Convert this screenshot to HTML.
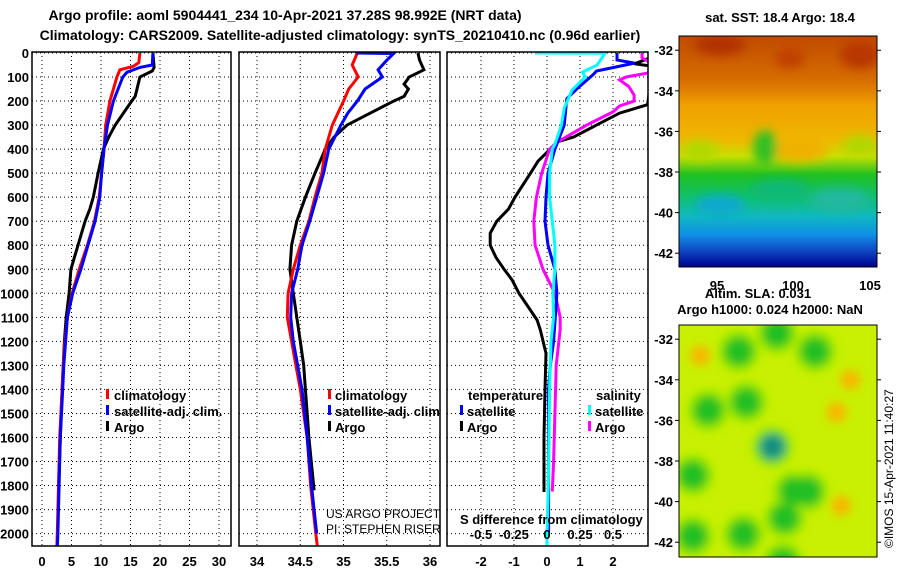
<!DOCTYPE html>
<html><head><meta charset="utf-8">
<style>
body{margin:0;background:#fff;}
svg{display:block;font-family:"Liberation Sans",sans-serif;}
.b{font-weight:bold;font-size:13px;}
</style></head>
<body>
<svg id="c" width="900" height="580" viewBox="0 0 900 580" xmlns="http://www.w3.org/2000/svg">
<defs>
<clipPath id="cp1"><rect x="32" y="52" width="199" height="494"/></clipPath>
<clipPath id="cp2"><rect x="239" y="52" width="201" height="494"/></clipPath>
<clipPath id="cp3"><rect x="447" y="52" width="201" height="494"/></clipPath>
<clipPath id="cpm1"><rect x="679" y="36" width="198" height="231"/></clipPath>
<clipPath id="cpm2"><rect x="679" y="325" width="198" height="232"/></clipPath>
<filter id="blur" x="-50%" y="-50%" width="200%" height="200%"><feGaussianBlur stdDeviation="5"/></filter>
<filter id="blur2" filterUnits="userSpaceOnUse" x="600" y="300" width="300" height="280"><feGaussianBlur stdDeviation="4.5"/></filter>
<linearGradient id="sstg" x1="0" y1="0" x2="0" y2="1">
<stop offset="0" stop-color="#c04a00"/><stop offset="0.2" stop-color="#d87000"/>
<stop offset="0.3" stop-color="#f0a000"/><stop offset="0.45" stop-color="#f0b800"/>
<stop offset="0.52" stop-color="#c8e000"/><stop offset="0.6" stop-color="#20c020"/>
<stop offset="0.7" stop-color="#10c070"/><stop offset="0.78" stop-color="#10b8c0"/>
<stop offset="0.86" stop-color="#1090e8"/><stop offset="0.92" stop-color="#1050c8"/>
<stop offset="1" stop-color="#000090"/></linearGradient>
</defs>
<g>
<text class="b" x="285" y="20" text-anchor="middle" style="font-size:14px">Argo profile: aoml 5904441_234 10-Apr-2021 37.28S 98.992E (NRT data)</text>
<text class="b" x="340" y="40" text-anchor="middle" style="font-size:14px">Climatology: CARS2009. Satellite-adjusted climatology: synTS_20210410.nc (0.96d earlier)</text>
</g>
<g id="grid"></g>
<g id="lines"></g>
<g id="frames"></g>
<g id="labels"></g>

<g class="b">
<rect x="106" y="389" width="3" height="10" fill="#f00"/><text x="114" y="400">climatology</text>
<rect x="106" y="405" width="3" height="10" fill="#00f"/><text x="114" y="416">satellite-adj. clim.</text>
<rect x="106" y="421" width="3" height="10" fill="#000"/><text x="114" y="432">Argo</text>
</g>
<g class="b" clip-path="url(#cp2)">
<rect x="328" y="389" width="3" height="10" fill="#f00"/><text x="335" y="400">climatology</text>
<rect x="328" y="405" width="3" height="10" fill="#00f"/><text x="335" y="416">satellite-adj. clim.</text>
<rect x="328" y="421" width="3" height="10" fill="#000"/><text x="335" y="432">Argo</text>
<text x="326" y="518" style="font-size:12px;font-weight:normal">US ARGO PROJECT</text>
<text x="326" y="533" style="font-size:12px;font-weight:normal">PI: STEPHEN RISER</text>
</g>
<g class="b">
<text x="468" y="400">temperature</text><text x="596" y="400">salinity</text>
<rect x="460" y="405" width="3" height="10" fill="#00f"/><text x="467" y="416">satellite</text>
<rect x="460" y="421" width="3" height="10" fill="#000"/><text x="467" y="432">Argo</text>
<rect x="588" y="405" width="3" height="10" fill="#0ff"/><text x="595" y="416">satellite</text>
<rect x="588" y="421" width="3" height="10" fill="#f0f"/><text x="595" y="432">Argo</text>
<text x="460" y="524">S difference from climatology</text>
</g>

<g>
<g clip-path="url(#cpm1)">
<rect x="679" y="36" width="198" height="231" fill="url(#sstg)"/>
<g filter="url(#blur)">
<ellipse cx="720" cy="45" rx="25" ry="10" fill="#b03000"/>
<ellipse cx="860" cy="55" rx="20" ry="14" fill="#b83800"/>
<ellipse cx="790" cy="58" rx="15" ry="10" fill="#c04000"/>
<ellipse cx="800" cy="150" rx="28" ry="12" fill="#f0b000"/>
<ellipse cx="765" cy="148" rx="12" ry="18" fill="#30c020"/>
<ellipse cx="840" cy="200" rx="30" ry="12" fill="#20b8a0"/>
<ellipse cx="720" cy="205" rx="25" ry="10" fill="#10a8d0"/>
<ellipse cx="700" cy="150" rx="18" ry="10" fill="#b0d800"/>
<ellipse cx="860" cy="145" rx="18" ry="10" fill="#b0d800"/>
<ellipse cx="780" cy="190" rx="30" ry="10" fill="#10b878"/>
</g>
</g>
<rect x="679" y="36" width="198" height="231" fill="none" stroke="#000"/>
</g>
<g>
<g clip-path="url(#cpm2)">
<rect x="679" y="325" width="198" height="232" fill="#c8f000"/>
<g id="blobs" filter="url(#blur2)"></g>
</g>
<rect x="679" y="325" width="198" height="232" fill="none" stroke="#000"/>
</g>
<g class="b">
<text x="780" y="22" text-anchor="middle">sat. SST: 18.4 Argo: 18.4</text>
<text x="717" y="290" text-anchor="middle">95</text>
<text x="793" y="290" text-anchor="middle">100</text>
<text x="870" y="290" text-anchor="middle">105</text>
<text x="758" y="298" text-anchor="middle">Altim. SLA: 0.031</text>
<text x="770" y="314" text-anchor="middle">Argo h1000: 0.024 h2000: NaN</text>
<text transform="translate(893,548) rotate(-90)" style="font-size:12px;font-weight:normal">©IMOS 15-Apr-2021 11:40:27</text>
</g>
<g id="maplabels" class="b"></g>
</svg>
<script>
// ---- data (depth in m) ----
const depthTicks=[0,100,200,300,400,500,600,700,800,900,1000,1100,1200,1300,1400,1500,1600,1700,1800,1900,2000];
const tTicks=[0,5,10,15,20,25,30];
const sTicks=[34,34.5,35,35.5,36];
const dTTicks=[-2,-1,0,1,2];
const dSTicks=[-0.5,-0.25,0,0.25,0.5];

const tClimDepth=[0,40,55,70,100,200,300,400,500,600,700,800,900,1000,1100,1200,1300,1400,1600,1800,2000,2060];
const tClimVal=[16.6,16.4,15.5,13.2,12.7,11.5,10.8,10.5,10.1,9.7,8.9,7.7,6.3,5.1,4.3,3.9,3.6,3.4,3.0,2.8,2.6,2.5];
const tSatDepth=[0,50,60,80,100,200,300,400,500,600,700,800,900,1000,1100,1200,1300,1400,1600,1800,2000,2060];
const tSatVal=[18.8,18.7,16.6,14.4,13.7,12.1,11.1,10.5,10.1,9.8,9.0,7.8,6.6,5.2,4.3,4.0,3.7,3.5,3.1,2.9,2.7,2.6];
const tArgoDepth=[0,60,75,100,150,180,200,250,300,350,400,500,600,650,700,800,900,1000,1100,1200,1300,1400,1600,1820];
const tArgoVal=[18.8,19.0,18.7,16.6,16.1,15.8,15.2,13.8,12.4,11.3,10.4,9.5,8.7,8.1,7.3,6.1,4.9,4.6,4.1,3.8,3.6,3.4,3.1,2.8];

const sClimDepth=[0,50,100,150,200,300,400,500,600,700,800,900,1000,1100,1200,1300,1400,1500,1600,1800,2000,2060];
const sClimVal=[35.16,35.1,35.17,35.06,35.0,34.87,34.79,34.75,34.67,34.6,34.5,34.42,34.36,34.35,34.4,34.45,34.5,34.54,34.58,34.62,34.68,34.7];
const sSatDepth=[0,2,30,70,100,150,200,250,300,400,500,600,700,800,900,1000,1100,1200,1400,1600,1800,2000];
const sSatVal=[35.15,35.58,35.5,35.4,35.45,35.25,35.16,35.05,34.97,34.83,34.77,34.69,34.61,34.52,34.47,34.4,34.39,34.42,34.52,34.58,34.63,34.69];
const sArgoDepth=[0,30,70,100,130,150,180,200,250,300,350,400,500,600,700,800,900,1000,1100,1200,1300,1400,1500,1600,1820];
const sArgoVal=[35.86,35.88,35.93,35.76,35.7,35.75,35.7,35.58,35.31,35.04,34.89,34.79,34.67,34.56,34.46,34.4,34.38,34.42,34.46,34.5,34.54,34.56,34.58,34.6,34.66];

const dTSatDepth=[0,29,42,75,90,150,190,300,400,500,600,700,800,900,1000,1100,1200,1300,1400,1600,1800,2000];
const dTSatVal=[2.12,2.12,2.65,1.5,1.4,0.9,0.6,0.52,0.24,0.03,-0.03,-0.06,0.03,0.24,0.3,0.25,0.2,0.1,0.05,0.05,0.05,0.05];
const dTArgoDepth=[0,45,55,215,250,300,350,370,400,450,500,600,650,700,750,800,850,900,944,1000,1030,1111,1153,1250,1400,1600,1827];
const dTArgoVal=[3.5,2.65,3.2,3.05,2.2,1.5,0.8,0.3,0.1,-0.27,-0.5,-0.97,-1.17,-1.52,-1.72,-1.72,-1.55,-1.3,-1.06,-0.85,-0.7,-0.3,-0.2,-0.03,-0.06,-0.09,-0.09];
const dSSatDepth=[0,1,50,79,100,154,230,300,380,400,500,600,700,800,900,1000,1100,1200,1400,1600,1800,2000,2060];
const dSSatVal=[-0.09,0.44,0.38,0.27,0.29,0.19,0.13,0.11,0.06,0.04,0.02,0.02,0.04,0.06,0.06,0.045,0.05,0.03,0.02,0.015,0.01,0.0,0.0];
const dSArgoDepth=[0,20,40,60,83,100,112,140,175,200,220,245,300,370,400,500,600,700,800,900,1000,1100,1150,1300,1500,1700,1825];
const dSArgoVal=[0.72,0.72,0.78,0.85,0.77,0.6,0.55,0.62,0.66,0.66,0.55,0.5,0.3,0.08,0.02,-0.04,-0.08,-0.1,-0.09,-0.03,0.06,0.1,0.1,0.07,0.06,0.05,0.04];

// SLA blobs (lon, lat, kind)
const slaLon=[99.0,96.5,101.5,94.5,97.0,98.7,93.5,101.0,99.5,96.8,93.5,99.4,100.1,94.0,103.8,102.9,103.2];
const slaLat=[-31.7,-32.6,-32.6,-35.5,-35.1,-37.3,-38.7,-39.5,-40.8,-41.6,-41.7,-43.0,-39.5,-32.8,-34.0,-35.6,-40.2];
const slaKind=["g","g","g","g","g","t","g","g","g","g","g","g","g","o","o","o","o"];

// ---- scales ----
const yD=d=>53+d*0.2403;
const xT=v=>42+v*5.9;
const xS=v=>257+(v-34)*86.5;
const xDT=v=>547+v*33;
const xDS=v=>547+v*132;
const mx=lon=>679+(lon-92.6)*15.3;
const my=lat=>36+(-31.3-lat)*20.3;
const SLA_OFF=289;

const NS="http://www.w3.org/2000/svg";
function mk(tag,attrs,parent){const e=document.createElementNS(NS,tag);for(const k in attrs)e.setAttribute(k,attrs[k]);parent.appendChild(e);return e;}
const grid=document.getElementById('grid'),lines=document.getElementById('lines'),frames=document.getElementById('frames'),labels=document.getElementById('labels');

const panels=[
 {l:32,r:231,ticks:tTicks,sx:xT,name:'temperature'},
 {l:239,r:440,ticks:sTicks,sx:xS,name:'salinity'},
 {l:447,r:648,ticks:dTTicks,sx:xDT,name:'difference'}];
panels.forEach(p=>{
  depthTicks.forEach(d=>{
    const g=mk('line',{x1:p.l,x2:p.r,y1:yD(d),y2:yD(d),stroke:'#000','stroke-dasharray':'1,3','stroke-width':1},grid);
    
    
  });
  p.ticks.forEach(t=>{
    const g=mk('line',{x1:p.sx(t),x2:p.sx(t),y1:52,y2:546,stroke:'#000','stroke-dasharray':'1,3','stroke-width':1},grid);
    
    
    const tx=mk('text',{x:p.sx(t),y:566,'text-anchor':'middle','class':'b'},labels);
    tx.textContent=t;
    
    
  });
  const f=mk('rect',{x:p.l,y:52,width:p.r-p.l,height:494,fill:'none',stroke:'#000','stroke-width':1.5},frames);
  
  
});
dSTicks.forEach(t=>{
  const tx=mk('text',{x:xDS(t),y:539,'text-anchor':'middle','class':'b'},labels);
  tx.textContent=t;
  
  
});
depthTicks.forEach(d=>{
  const tx=mk('text',{x:29,y:yD(d)+5,'text-anchor':'end','class':'b'},labels);
  tx.textContent=d;
  
  
});

function series(dep,val,sx,color,clip,name){
  const pts=dep.map((d,i)=>sx(val[i]).toFixed(1)+','+yD(d).toFixed(1)).join(' ');
  const pl=mk('polyline',{points:pts,fill:'none',stroke:color,'stroke-width':3,'clip-path':'url(#'+clip+')'},lines);
  
  
}
series(tArgoDepth,tArgoVal,xT,'#000','cp1','temp-argo-line');
series(tClimDepth,tClimVal,xT,'#f00','cp1','temp-climatology-line');
series(tSatDepth,tSatVal,xT,'#00f','cp1','temp-satellite-line');
series(sArgoDepth,sArgoVal,xS,'#000','cp2','sal-argo-line');
series(sClimDepth,sClimVal,xS,'#f00','cp2','sal-climatology-line');
series(sSatDepth,sSatVal,xS,'#00f','cp2','sal-satellite-line');
series(dTArgoDepth,dTArgoVal,xDT,'#000','cp3','tdiff-argo-line');
series(dSArgoDepth,dSArgoVal,xDS,'#f0f','cp3','sdiff-argo-line');
series(dTSatDepth,dTSatVal,xDT,'#00f','cp3','tdiff-satellite-line');
series(dSSatDepth,dSSatVal,xDS,'#0ff','cp3','sdiff-satellite-line');

// SLA blobs
const blobs=document.getElementById('blobs');
const kc={g:'#20c020',t:'#10a080',o:'#f8b800'};
slaLon.forEach((lo,i)=>{
  if(slaKind[i]!=='o'){
    const h=mk('circle',{cx:mx(lo),cy:my(slaLat[i])+SLA_OFF,r:20,fill:'#90e400'},blobs);
    
    
  }
});
slaLon.forEach((lo,i)=>{
  const c=mk('circle',{cx:mx(lo),cy:my(slaLat[i])+SLA_OFF,r:slaKind[i]==='o'?10:14,fill:kc[slaKind[i]]},blobs);
  
  
  if(slaKind[i]==='t'){const c2=mk('circle',{cx:mx(lo),cy:my(slaLat[i])+SLA_OFF,r:6,fill:'#208080'},blobs);}
});
// map lat labels & ticks
const ml=document.getElementById('maplabels');
const lats=[-32,-34,-36,-38,-40,-42];
[0,SLA_OFF].forEach(off=>{
  lats.forEach(la=>{
    const y=my(la)+off;
    const t=mk('text',{x:673,y:y+5,'text-anchor':'end'},ml);
    t.textContent=la;
    
    
    const tk=mk('line',{x1:877,x2:881,y1:y,y2:y,stroke:'#000'},ml);
    
    
    const tk2=mk('line',{x1:675,x2:679,y1:y,y2:y,stroke:'#000'},ml);
    
    
  });
});
</script>
</body></html>
